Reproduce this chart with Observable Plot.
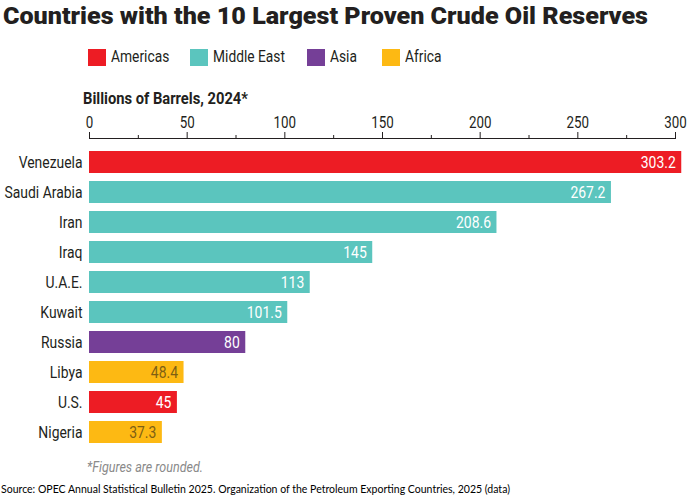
<!DOCTYPE html>
<html><head><meta charset="utf-8">
<script src="https://cdn.jsdelivr.net/npm/d3@7"></script>
<script src="https://cdn.jsdelivr.net/npm/@observablehq/plot@0.6"></script>
<style>
body{margin:0;background:#fff;width:698px;height:499px;position:relative;overflow:hidden;font-family:Roboto,sans-serif;color:#231f20}
.abs{position:absolute;white-space:nowrap;transform-origin:0 50%;display:inline-block}
#title{left:3px;top:4px;font-size:24px;line-height:24px;font-weight:900}
.sw{position:absolute;top:49px;width:18px;height:17px}
.lt{position:absolute;top:48px;height:18px;line-height:18px;font-size:16px;white-space:nowrap;transform-origin:0 50%}
#alabel{left:83px;top:90px;font-size:16px;line-height:18px;font-weight:bold}
#note{left:87px;top:459px;font-size:15px;line-height:17px;font-style:italic;color:#8a8a8a}
#src{left:1px;top:482px;font-size:11.5px;line-height:14px;font-family:Lato,sans-serif;color:#000}
#chart{position:absolute;left:0;top:80px}
</style></head>
<body>
<div id="title" class="abs">Countries with the 10 Largest Proven Crude Oil Reserves</div>
<div id="legend"></div>
<div id="alabel" class="abs">Billions of Barrels, 2024*</div>
<div id="chart"></div>
<div id="note" class="abs">*Figures are rounded.</div>
<div id="src" class="abs">Source: OPEC Annual Statistical Bulletin 2025. Organization of the Petroleum Exporting Countries, 2025 (data)</div>
<script>
const countries = ["Venezuela","Saudi Arabia","Iran","Iraq","U.A.E.","Kuwait","Russia","Libya","U.S.","Nigeria"];
const values = [303.2,267.2,208.6,145,113,101.5,80,48.4,45,37.3];
const regions = ["Americas","Middle East","Middle East","Middle East","Middle East","Middle East","Asia","Africa","Americas","Africa"];
const regionNames = ["Americas","Middle East","Asia","Africa"];
const regionColors = ["#ED1C24","#5BC5BE","#753F97","#FDB913"];
const majorTicks = [0,50,100,150,200,250,300];
const minorTicks = [25,75,125,175,225,275];

const data = countries.map((c,i)=>({country:c,value:values[i],region:regions[i]}));

// HTML legend
const legendX = [88,190,307,382];
const leg = document.getElementById("legend");
const legTexts = [];
regionNames.forEach((r,i)=>{
  const s=document.createElement("div");s.className="sw";s.style.left=legendX[i]+"px";s.style.background=regionColors[i];
  leg.appendChild(s);
  const t=document.createElement("div");t.className="lt";t.style.left=(legendX[i]+23)+"px";t.textContent=r;
  leg.appendChild(t);legTexts.push(t);
});
function fitW(el,w){const cw=el.getBoundingClientRect().width; if(cw>0) el.style.transform=`scaleX(${w/cw})`;}
fitW(document.getElementById("title"),645);
fitW(document.getElementById("alabel"),165);
fitW(document.getElementById("note"),116);
fitW(document.getElementById("src"),509);
{ const cw=legTexts[1].getBoundingClientRect().width; const k=72/cw; legTexts.forEach(t=>t.style.transform=`scaleX(${k})`); }

const font = 'Roboto,sans-serif';
const chart = Plot.plot({
  width:698, height:375,
  marginLeft:89, marginRight:23, marginTop:58, marginBottom:0,
  style:{fontFamily:font, fontSize:"16px", color:"#231f20", background:"transparent"},
  x:{domain:[0,300]},
  y:{domain:countries, range:[59.4,374.6], padding:0.28},
  color:{domain:regionNames, range:regionColors},
  marks:[
    Plot.axisX({anchor:"top", ticks:majorTicks, tickSize:7, tickPadding:4, label:null, fontSize:16, stroke:"#231f20"}),
    Plot.axisX({anchor:"top", ticks:minorTicks, tickSize:4, text:null, label:null, stroke:"#231f20"}),
    Plot.frame({anchor:"top", stroke:"#231f20"}),
    Plot.axisY({tickSize:0, tickPadding:7, label:null, fontSize:16}),
    Plot.barX(data,{x:"value", y:"country", fill:"region"}),
    Plot.text(data,{x:"value", y:"country", text:d=>String(d.value), textAnchor:"end", dx:-6, fontSize:17,
      fill:d=>d.region==="Africa"?"#7d5f14":"#ffffff"})
  ]
});
document.getElementById("chart").appendChild(chart);

function squeeze(sel, refText, target){
  const texts=[...chart.querySelectorAll(sel)];
  const ref=texts.find(t=>t.textContent===refText);
  if(!ref) return;
  const k=target/ref.getComputedTextLength();
  texts.forEach(t=>{const L=t.getComputedTextLength(); t.setAttribute("textLength",L*k); t.setAttribute("lengthAdjust","spacingAndGlyphs");});
}
squeeze('g[aria-label="y-axis tick label"] text',"Saudi Arabia",78);
squeeze('g[aria-label="x-axis tick label"] text',"100",22.5);
squeeze('g[aria-label="text"] text',"303.2",35);
</script>
</body></html>
